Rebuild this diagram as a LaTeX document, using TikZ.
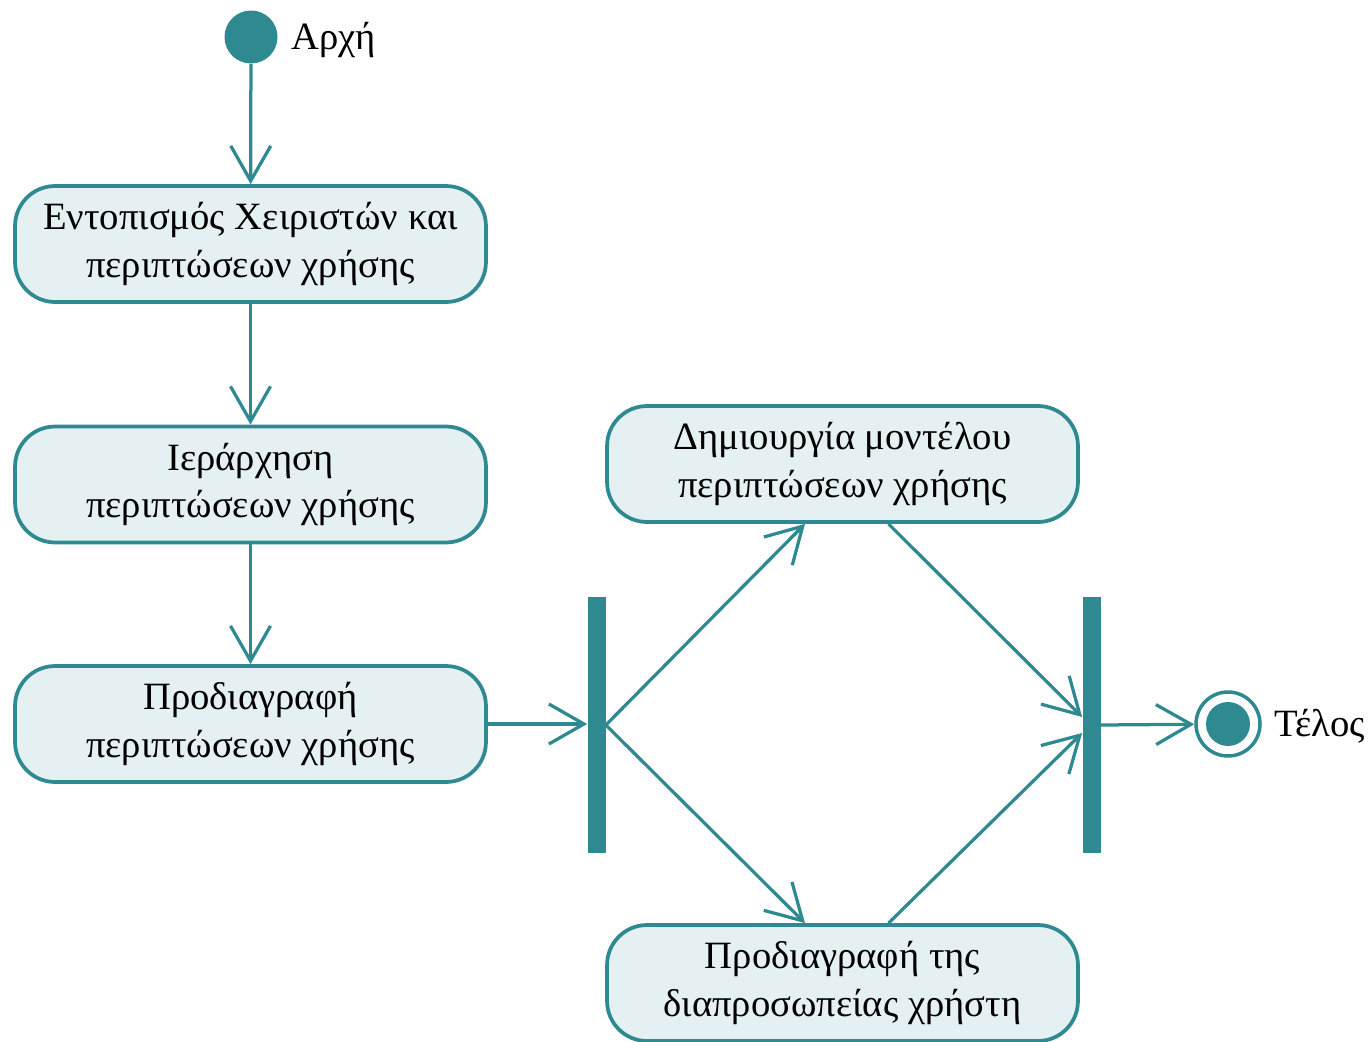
\documentclass[tikz,border=0pt]{standalone}
\usepackage{fontspec}
\setmainfont{Liberation Serif}
\usetikzlibrary{arrows.meta,calc}
\definecolor{umlteal}{HTML}{2E8A90}
\definecolor{actfill}{HTML}{E4F0F2}
\begin{document}
\begin{tikzpicture}[x=0.02cm,y=-0.02cm,
  act/.style={draw=umlteal, fill=actfill, line width=0.075cm, rounded corners=0.8cm,
    minimum width=9.42cm, minimum height=2.32cm, align=center, inner sep=0pt,
    font=\fontsize{22}{27}\selectfont},
  flow/.style={draw=umlteal, line width=0.065cm,
    -{Straight Barb[length=0.7cm, width=0.8cm, line width=0.065cm]}},
  syncbar/.style={fill=umlteal, minimum width=0.36cm, minimum height=5.12cm, inner sep=0pt},
  caption/.style={font=\fontsize{22}{27}\selectfont, anchor=west, inner sep=0pt}
]
\useasboundingbox (0,0) rectangle (1372,1041);

% initial and final states
\node[circle, fill=umlteal, minimum size=1.06cm, inner sep=0pt] (start) at (251,37) {};
\node[caption] (startlbl) at (291,40) {Αρχή};
\node[circle, draw=umlteal, line width=0.07cm, fill=white, minimum size=1.28cm, inner sep=0pt] (end) at (1228,724) {};
\node[circle, fill=umlteal, minimum size=0.88cm, inner sep=0pt] (endcore) at (end) {};
\node[caption] (endlbl) at (1274,726) {Τέλος};

% activities
\node[act] (a1) at (250.5,244) {Εντοπισμός Χειριστών και\\περιπτώσεων χρήσης};
\node[act] (a2) at (250.5,484.5) {Ιεράρχηση\\περιπτώσεων χρήσης};
\node[act] (a3) at (250.5,724) {Προδιαγραφή\\περιπτώσεων χρήσης};
\node[act] (a4) at (842.5,464) {Δημιουργία μοντέλου\\περιπτώσεων χρήσης};
\node[act] (a5) at (842.5,983) {Προδιαγραφή της\\διαπροσωπείας χρήστη};

% fork and join bars
\node[syncbar] (fork) at (596.5,725) {};
\node[syncbar] (join) at (1091.5,725) {};

% control flow
\draw[flow] (start) -- (a1);
\draw[flow] (a1) -- (a2);
\draw[flow] (a2) -- (a3);
\draw[flow] (a3.east) -- (a3.east -| fork.west);
\draw[flow] (fork.east) -- ([xshift=-0.75cm]a4.south);
\draw[flow] (fork.east) -- ([xshift=-0.75cm]a5.north);
\draw[flow] ([xshift=0.92cm]a4.south) -- ([yshift=0.16cm]join.west);
\draw[flow] ([xshift=0.92cm]a5.north) -- ([yshift=-0.16cm]join.west);
\draw[flow] (join.east) -- (end);
\end{tikzpicture}
\end{document}
